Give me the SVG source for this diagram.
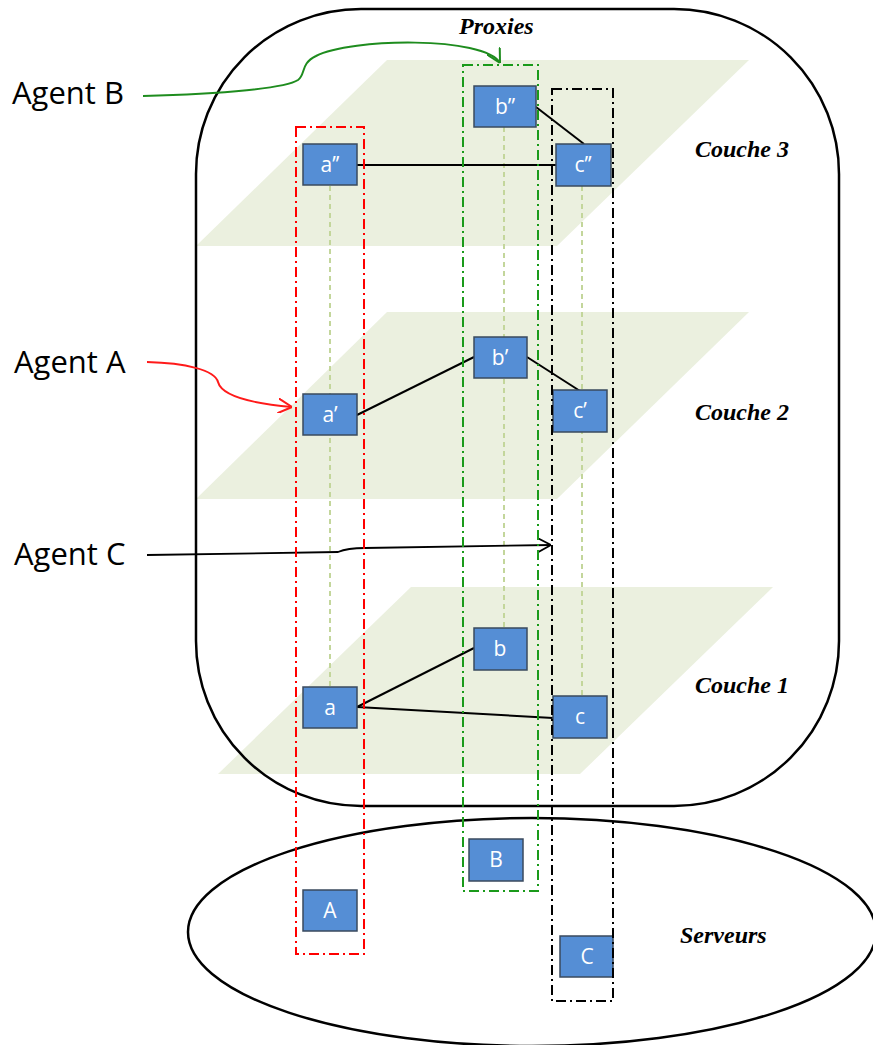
<svg xmlns="http://www.w3.org/2000/svg" width="873" height="1045" viewBox="0 0 873 1045">
<style>
.bg{fill:#ffffff}
.layer{fill:#EBF0DF;stroke:none}
.guide{stroke:#C3D69B;stroke-width:2;stroke-dasharray:5 4;fill:none}
.node rect{fill:#558ED5;stroke:#3A4A5E;stroke-width:1.5}
.node text{font-family:"Open Sans","Noto Sans",sans-serif;font-size:21px;fill:#ffffff;text-anchor:middle}
.edge{stroke:#000;stroke-width:2;fill:none}
.grp{fill:none;stroke-width:2;stroke-dasharray:10 4 2 4}
.zone{fill:none;stroke:#000;stroke-width:2.5}
.agent{font-family:"Open Sans","Noto Sans",sans-serif;font-size:31px;fill:#000}
.lbl{font-family:"Liberation Serif",serif;font-weight:bold;font-style:italic;font-size:24px;fill:#000}
</style>
<defs>
<marker id="arrG" viewBox="0 0 14 15" markerWidth="14" markerHeight="15" refX="14" refY="7.5" orient="auto" markerUnits="userSpaceOnUse"><path d="M0,0 L14,7.5 L0,15" fill="none" stroke="#1E8C1E" stroke-width="2"/></marker>
<marker id="arrR" viewBox="0 0 14 15" markerWidth="14" markerHeight="15" refX="14" refY="7.5" orient="auto" markerUnits="userSpaceOnUse"><path d="M0,0 L14,7.5 L0,15" fill="none" stroke="#FF1A1A" stroke-width="2"/></marker>
<marker id="arrK" viewBox="0 0 14 15" markerWidth="14" markerHeight="15" refX="14" refY="7.5" orient="auto" markerUnits="userSpaceOnUse"><path d="M0,0 L14,7.5 L0,15" fill="none" stroke="#000" stroke-width="1.8"/></marker>
</defs>
<rect class="bg" x="0" y="0" width="873" height="1045"/>

<g id="layers">
<polygon class="layer" points="387,60 749,60 557,246 196,246"/>
<polygon class="layer" points="387,312 749,312 557,499 196,499"/>
<polygon class="layer" points="411,587 773,587 580,774 218,774"/>
</g>

<g id="zones">
<rect id="zone-proxies" class="zone" x="196" y="9" width="643" height="797" rx="165" ry="165"/>
<ellipse id="zone-serveurs" class="zone" cx="532" cy="932" rx="344" ry="114"/>
</g>

<g id="guides">
<line class="guide" x1="330" y1="186" x2="330" y2="688"/>
<line class="guide" x1="504" y1="127" x2="504" y2="628"/>
<line class="guide" x1="582" y1="186" x2="582" y2="697"/>
</g>

<g id="connectors">
<line class="edge" x1="357" y1="165" x2="556" y2="165"/>
<line class="edge" x1="536" y1="107" x2="584" y2="144"/>
<line class="edge" x1="357" y1="415" x2="474" y2="357"/>
<line class="edge" x1="527" y1="357" x2="580" y2="391"/>
<line class="edge" x1="357" y1="707" x2="474" y2="648"/>
<line class="edge" x1="357" y1="707" x2="553" y2="718"/>
<path d="M143,96 C225,94 286,88 298,80 C306,74 300,64 316,56 C350,38 485,36 500,63" fill="none" stroke="#1E8C1E" stroke-width="2" marker-end="url(#arrG)"/>
<path d="M147,362 C185,363 215,370 218,382 C222,397 258,404 292,407" fill="none" stroke="#FF1A1A" stroke-width="2" marker-end="url(#arrR)"/>
<path d="M147,555 L338,552 C345,549 352,548 365,548 L551,545" fill="none" stroke="#000" stroke-width="1.8" marker-end="url(#arrK)"/>
</g>

<g id="node-a2" class="node"><rect x="303" y="144" width="54" height="41"/><text x="330" y="172">a’’</text></g>
<g id="node-b2" class="node"><rect x="474" y="86" width="62" height="41"/><text x="505" y="114">b’’</text></g>
<g id="node-c2" class="node"><rect x="556" y="144" width="55" height="42"/><text x="583" y="172">c’’</text></g>
<g id="node-a1" class="node"><rect x="303" y="394" width="54" height="41"/><text x="330" y="422">a’</text></g>
<g id="node-b1" class="node"><rect x="474" y="337" width="53" height="41"/><text x="500" y="365">b’</text></g>
<g id="node-c1" class="node"><rect x="553" y="390" width="54" height="42"/><text x="580" y="418">c’</text></g>
<g id="node-a" class="node"><rect x="303" y="687" width="54" height="41"/><text x="330" y="715">a</text></g>
<g id="node-b" class="node"><rect x="474" y="628" width="53" height="42"/><text x="500" y="656">b</text></g>
<g id="node-c" class="node"><rect x="553" y="696" width="54" height="42"/><text x="580" y="724">c</text></g>
<g id="node-A" class="node"><rect x="303" y="890" width="54" height="41"/><text x="330" y="918">A</text></g>
<g id="node-B" class="node"><rect x="469" y="839" width="54" height="42"/><text x="496" y="867">B</text></g>
<g id="node-C" class="node"><rect x="560" y="936" width="53" height="41"/><text x="587" y="964">C</text></g>

<g id="groups">
<rect id="group-a" class="grp" stroke="#FF0000" x="296" y="127" width="68" height="827"/>
<rect id="group-b" class="grp" stroke="#1A9A1A" x="463" y="65" width="75" height="826"/>
<rect id="group-c" class="grp" stroke="#000000" x="552" y="89" width="61" height="912"/>
</g>

<g id="labels">
<text class="agent" x="12" y="104">Agent B</text>
<text class="agent" x="14" y="373">Agent A</text>
<text class="agent" x="14" y="565">Agent C</text>
<text class="lbl" x="459" y="34">Proxies</text>
<text class="lbl" x="695" y="157">Couche 3</text>
<text class="lbl" x="695" y="420">Couche 2</text>
<text class="lbl" x="695" y="693">Couche 1</text>
<text class="lbl" x="680" y="943">Serveurs</text>
</g>
</svg>
